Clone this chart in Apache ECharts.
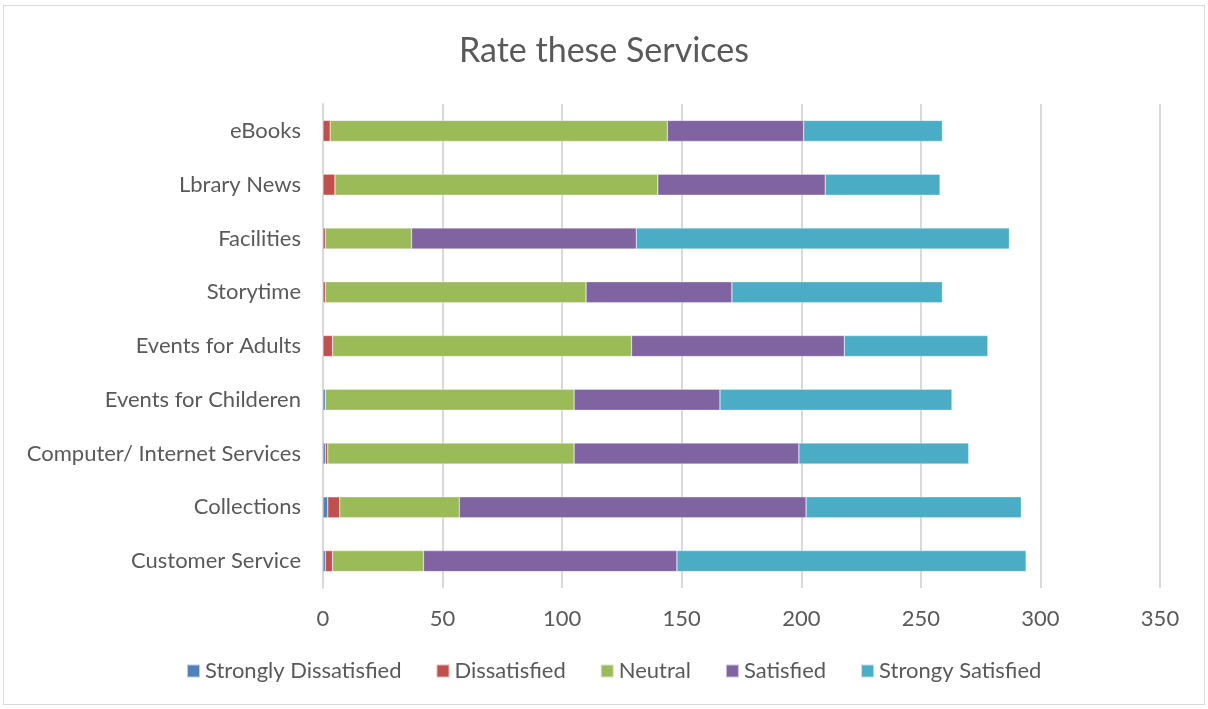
<!DOCTYPE html>
<html>
<head>
<meta charset="utf-8">
<script src="https://cdn.jsdelivr.net/npm/echarts@6/dist/echarts.min.js"></script>
<style>
  html, body { margin: 0; padding: 0; background: #fff; }
  #frame { position: absolute; left: 3px; top: 5px; width: 1202px; height: 700px; border: 1px solid #d9d9d9; box-sizing: border-box; }
  #chart { position: absolute; left: 0; top: 0; width: 1208px; height: 709px; }
</style>
</head>
<body>
<div id="frame"></div>
<div id="chart"></div>
<script>
// Services, listed bottom to top as drawn on the category axis
const categories = [
  'Customer Service',
  'Collections',
  'Computer/ Internet Services',
  'Events for Childeren',
  'Events for Adults',
  'Storytime',
  'Facilities',
  'Lbrary News',
  'eBooks'
];

// Response counts per rating, same order as categories
const stronglyDissatisfied = [1, 2, 1, 1, 0, 0, 0, 0, 0];
const dissatisfied         = [3, 5, 1, 0, 4, 1, 1, 5, 3];
const neutral              = [38, 50, 103, 104, 125, 109, 36, 135, 141];
const satisfied            = [106, 145, 94, 61, 89, 61, 94, 70, 57];
const strongySatisfied     = [146, 90, 71, 97, 60, 88, 156, 48, 58];

const seriesNames = ['Strongly Dissatisfied', 'Dissatisfied', 'Neutral', 'Satisfied', 'Strongy Satisfied'];
const seriesData = [stronglyDissatisfied, dissatisfied, neutral, satisfied, strongySatisfied];
const colors = ['#4F81BD', '#C0504D', '#9BBB59', '#8064A2', '#4BACC6'];

const xTicks = { min: 0, max: 350, interval: 50 };

const textColor = '#595959';
const fontFamily = 'Lato, "Open Sans", sans-serif';

const chart = echarts.init(document.getElementById('chart'), null, { renderer: 'canvas' });

chart.setOption({
  animation: false,
  color: colors,
  textStyle: { fontFamily: fontFamily, color: textColor },
  title: {
    text: 'Rate these Services',
    left: 'center',
    top: 29,
    textStyle: { fontFamily: fontFamily, fontSize: 34, fontWeight: 'normal', color: textColor }
  },
  legend: {
    bottom: 22,
    left: 181,
    itemWidth: 13,
    itemHeight: 13,
    itemGap: 34,
    icon: 'rect',
    textStyle: { fontFamily: fontFamily, fontSize: 22, color: textColor, padding: [0, 0, 0, 0] },
    data: seriesNames
  },
  grid: { left: 323, right: 48, top: 104, bottom: 121, containLabel: false },
  xAxis: {
    type: 'value',
    min: xTicks.min,
    max: xTicks.max,
    interval: xTicks.interval,
    axisLine: { show: false },
    axisTick: { show: false },
    axisLabel: { fontFamily: fontFamily, fontSize: 22, color: textColor, margin: 20 },
    splitLine: { show: true, lineStyle: { color: '#d9d9d9', width: 2 } }
  },
  yAxis: {
    type: 'category',
    data: categories,
    axisLine: { show: true, lineStyle: { color: '#d9d9d9', width: 2 } },
    axisTick: { show: false },
    axisLabel: { fontFamily: fontFamily, fontSize: 22, color: textColor, margin: 22 }
  },
  series: seriesNames.map((name, i) => ({
    name: name,
    type: 'bar',
    stack: 'total',
    barWidth: 21,
    data: seriesData[i],
    itemStyle: { color: colors[i], borderColor: 'rgba(255,255,255,0.6)', borderWidth: 0.5 }
  }))
});
</script>
</body>
</html>
